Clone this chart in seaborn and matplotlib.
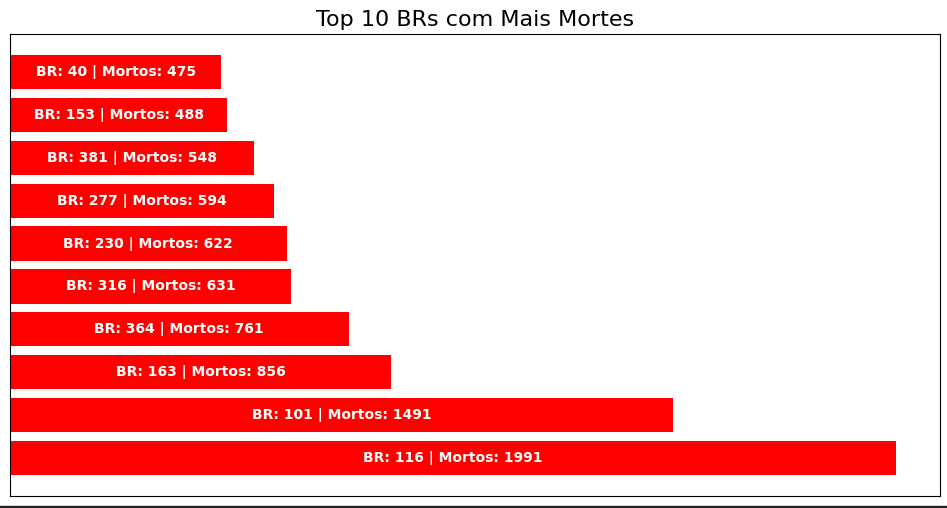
import pandas as pd
import seaborn as sns
import matplotlib.pyplot as plt
from matplotlib.patches import Rectangle

# top 10 rodovias por mortes
brs = ["40", "153", "381", "277", "230", "316", "364", "163", "101", "116"]
mortos = [475, 488, 548, 594, 622, 631, 761, 856, 1491, 1991]

df = pd.DataFrame({"br": brs, "mortos": mortos})

fig = plt.figure(figsize=(9.47, 5.08), dpi=100)
ax = fig.add_axes([10 / 947, 12 / 508, 930 / 947, 462 / 508])

sns.barplot(data=df, x="mortos", y="br", orient="h", color="red",
            saturation=1, width=0.8, ax=ax)

# rótulos dentro das barras
for i, (b, m) in enumerate(zip(df["br"], df["mortos"])):
    ax.text(m / 2, i, f"BR: {b} | Mortos: {m}", ha="center", va="center",
            color="white", fontweight="bold", fontsize=10)

ax.set_xlim(0, max(mortos) * 1.05)
ax.set_ylim(len(brs) - 1 + 0.89, -0.89)
ax.set_xticks([])
ax.set_yticks([])
ax.set_xlabel("")
ax.set_ylabel("")
for s in ax.spines.values():
    s.set_visible(True)
    s.set_color("black")
    s.set_linewidth(0.8)
ax.set_title("Top 10 BRs com Mais Mortes", fontsize=16)

# linha escura na borda inferior
fig.patches.append(Rectangle((0, 0), 1, 2.5 / 508, transform=fig.transFigure,
                             color="#222222", zorder=0))

fig.savefig("out.png", dpi=100)
